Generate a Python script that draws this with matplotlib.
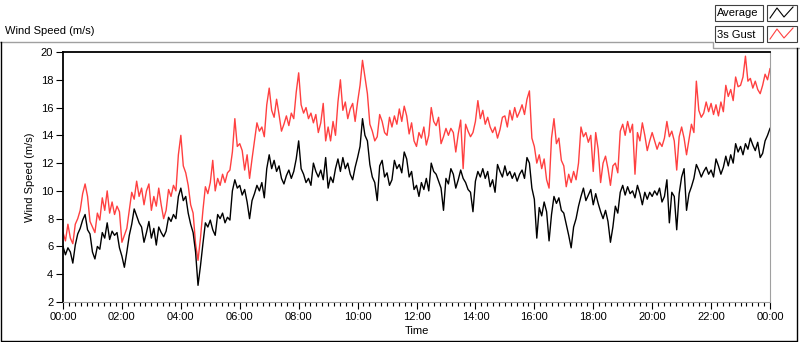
import numpy as np
import matplotlib
matplotlib.use('Agg')
import matplotlib.pyplot as plt
from matplotlib.ticker import MultipleLocator, FuncFormatter
from matplotlib.patches import Rectangle

plt.rcParams['font.family'] = ['Liberation Sans', 'DejaVu Sans']

# wind speed in m/s, one reading every 5 minutes from 00:00 to 24:00
step_min = 5
average = [
    6.0, 5.4, 5.9, 5.6, 4.8, 6.1, 6.9, 7.3, 7.9, 8.3, 7.2, 6.9,
    5.6, 5.1, 6.0, 5.8, 7.0, 6.6, 7.7, 6.5, 7.1, 6.8, 7.0, 5.9,
    5.3, 4.5, 5.6, 6.8, 7.6, 8.7, 8.2, 7.7, 7.4, 6.3, 7.0, 7.8,
    6.6, 7.3, 6.1, 7.4, 7.0, 6.7, 7.1, 8.1, 7.8, 8.3, 8.0, 9.6,
    10.2, 9.3, 9.6, 8.4, 7.6, 7.0, 5.6, 3.2, 4.6, 6.2, 7.7, 7.4,
    7.9, 7.2, 6.8, 8.3, 8.0, 8.4, 7.7, 8.1, 7.9, 10.0, 10.8, 10.2,
    10.4, 9.7, 10.1, 9.2, 8.0, 9.3, 9.8, 10.4, 10.0, 10.6, 9.5, 11.6,
    12.6, 11.6, 12.2, 11.4, 11.8, 10.9, 10.5, 11.1, 11.5, 10.9, 11.4, 12.3,
    13.6, 11.6, 11.2, 10.6, 10.9, 10.4, 12.0, 11.4, 11.0, 11.5, 10.8, 12.4,
    10.2, 11.0, 10.6, 11.6, 12.3, 11.4, 12.4, 11.6, 12.0, 11.2, 10.8, 11.7,
    12.4, 13.2, 15.2, 14.0, 13.6, 11.9, 11.0, 10.6, 9.3, 11.8, 12.2, 11.0,
    11.3, 10.4, 10.8, 12.2, 11.6, 11.9, 11.3, 12.8, 12.3, 11.0, 11.4, 10.1,
    10.4, 9.6, 10.6, 10.1, 10.9, 10.0, 12.0, 11.4, 11.2, 10.7, 10.2, 8.6,
    10.9, 10.5, 11.6, 11.2, 10.2, 10.8, 11.5, 10.9, 10.6, 10.1, 9.9, 8.5,
    10.7, 11.4, 11.0, 11.6, 10.9, 11.4, 10.3, 10.8, 9.9, 11.9, 11.4, 11.0,
    11.8, 11.1, 11.4, 10.9, 11.3, 10.7, 11.2, 11.5, 10.9, 12.4, 12.0, 10.2,
    9.4, 6.6, 8.8, 8.2, 9.2, 8.5, 6.4, 8.3, 9.6, 9.1, 9.5, 8.6,
    8.4, 7.6, 6.8, 5.9, 7.4, 8.0, 8.9, 9.6, 10.2, 9.3, 9.7, 10.1,
    9.0, 9.8, 9.1, 8.5, 8.0, 8.6, 7.8, 6.3, 7.4, 8.9, 8.4, 9.9,
    10.4, 9.7, 10.3, 9.8, 10.0, 9.5, 10.4, 9.8, 9.0, 9.9, 9.4, 9.9,
    9.6, 10.0, 9.7, 10.2, 9.2, 9.6, 10.8, 7.7, 9.9, 9.6, 7.2, 9.8,
    11.0, 11.6, 8.6, 9.8, 10.3, 10.9, 11.9, 11.5, 11.0, 11.4, 11.7, 11.2,
    11.5, 11.0, 12.3, 11.8, 11.2, 11.7, 12.5, 11.8, 12.6, 12.0, 13.4, 12.8,
    13.2, 12.6, 13.4, 13.0, 13.8, 13.3, 12.9, 13.5, 12.4, 12.7, 13.6, 14.0,
    14.5,
]
gust = [
    7.0, 6.4, 7.6, 6.6, 6.2, 7.6, 8.0, 8.6, 9.8, 10.5, 9.6, 7.8,
    7.4, 7.0, 8.4, 7.9, 9.5, 8.6, 10.0, 8.4, 9.2, 8.3, 8.9, 8.5,
    6.3, 6.8, 7.3, 8.6, 9.9, 9.4, 10.7, 9.6, 10.2, 9.0, 10.0, 10.5,
    8.6, 9.6, 8.9, 10.2, 9.0, 8.0, 8.6, 10.1, 9.6, 10.4, 10.0, 12.6,
    14.0, 11.8, 11.3, 10.4, 9.0, 8.4, 6.2, 5.0, 6.6, 8.6, 10.3, 9.8,
    10.6, 12.2, 10.0, 10.9, 10.4, 11.2, 10.6, 11.3, 11.5, 12.8, 15.2, 13.2,
    13.4, 12.9, 11.5, 12.6, 10.9, 12.3, 13.6, 14.9, 14.3, 14.6, 13.9, 16.2,
    17.4, 15.8, 15.3, 16.6, 15.5, 14.3, 14.8, 15.4, 14.7, 15.6, 15.2, 17.1,
    18.5, 16.2, 15.6, 16.0, 15.2, 15.6, 14.9, 15.5, 14.2, 14.9, 16.3, 13.6,
    14.6, 13.6, 15.0, 14.0, 16.4, 18.0, 15.8, 16.4, 15.2, 15.9, 16.3, 15.0,
    16.4, 17.6, 19.4, 18.2, 17.0, 14.8, 14.3, 13.6, 13.9, 15.5, 15.0, 14.2,
    14.0, 15.3, 14.6, 15.4, 14.8, 15.9, 15.0, 16.1, 15.4, 14.1, 14.9, 13.6,
    13.2, 14.2, 13.8, 14.6, 13.3, 14.0, 16.0, 15.0, 14.7, 15.3, 13.4, 13.9,
    14.5, 14.0, 14.5, 14.2, 12.8, 14.1, 15.1, 11.6, 14.8, 14.3, 13.9, 14.2,
    15.0, 16.5, 15.2, 15.8, 14.8, 15.3, 14.6, 14.2, 14.6, 13.8, 14.4, 15.3,
    15.4, 14.6, 15.8, 15.1, 16.0, 15.3, 15.7, 16.2, 15.5, 16.6, 17.2, 13.8,
    13.2, 12.0, 12.6, 11.6, 12.3, 10.8, 10.2, 13.8, 15.2, 13.4, 13.8, 12.2,
    11.8, 10.3, 11.2, 10.6, 11.4, 10.8, 12.0, 14.6, 13.9, 14.2, 13.5, 14.0,
    11.4, 14.2, 13.0, 10.6, 12.0, 12.5, 11.6, 10.4, 11.8, 12.0, 11.3, 14.3,
    14.8, 14.0, 15.0, 14.2, 14.8, 11.2, 14.2, 13.6, 14.9, 14.0, 12.9, 13.6,
    14.2, 13.6, 13.0, 13.5, 13.2, 13.8, 15.0, 13.9, 14.3, 13.6, 11.5, 13.9,
    14.6, 13.8, 12.6, 13.7, 14.8, 14.2, 17.9, 15.8, 15.3, 15.6, 16.4, 15.7,
    16.3, 15.5, 16.2, 15.4, 16.4, 15.7, 17.6, 16.8, 17.3, 16.5, 18.2, 17.5,
    17.6, 18.2, 19.7, 17.9, 18.1, 17.4, 17.9, 17.3, 17.0, 17.6, 18.4, 18.0,
    18.8,
]
series_names = ['Average', '3s Gust']
series_colors = ['black', '#ff4040']

hours = np.arange(len(average)) * step_min / 60.0

W, H = 800, 342
fig = plt.figure(figsize=(W / 100, H / 100), dpi=100)

# background decorations drawn in pixel coordinates
bg = fig.add_axes([0, 0, 1, 1])
bg.set_xlim(0, W)
bg.set_ylim(H, 0)
bg.axis('off')
gray = '#a0a0a0'
bg.plot([0, 713, 713, 800], [42, 42, 48, 48], color=gray, lw=1)
bg.plot([0.5, 0.5, 797, 797], [42, 341, 341, 48], color='black', lw=1)
bg.text(5, 31, 'Wind Speed (m/s)', fontsize=8, va='center', ha='left')

for i, (name, col) in enumerate(zip(series_names, series_colors)):
    y0 = 5 + i * 21
    bg.add_patch(Rectangle((715, y0), 48, 16, fc='white', ec='#404040', lw=0.8))
    bg.text(717, y0 + 8.5, name, fontsize=8, va='center', ha='left')
    bg.add_patch(Rectangle((767, y0), 30, 16, fc='white', ec='#404040', lw=0.8))
    bg.plot([770, 777, 784, 793], [y0 + 13, y0 + 3, y0 + 12, y0 + 2], color=col, lw=0.8)

ax = fig.add_axes([63 / W, 1 - 302 / H, 707 / W, 250 / H])
ax.plot(hours, gust, color=series_colors[1], lw=1.0)
ax.plot(hours, average, color=series_colors[0], lw=1.0)

ax.set_xlim(0, 24)
ax.set_ylim(2, 20)
ax.xaxis.set_major_locator(MultipleLocator(2))
ax.xaxis.set_minor_locator(MultipleLocator(0.2))
ax.xaxis.set_major_formatter(FuncFormatter(lambda v, p: '%02d:00' % (int(round(v)) % 24)))
ax.yaxis.set_major_locator(MultipleLocator(2))
ax.tick_params(axis='both', which='major', length=5, width=0.8, labelsize=8, pad=2)
ax.tick_params(axis='x', which='minor', length=3, width=0.8)

ax.spines['left'].set_color('black')
ax.spines['top'].set_color('black')
ax.spines['left'].set_linewidth(1.3)
ax.spines['top'].set_linewidth(1.3)
ax.spines['bottom'].set_color(gray)
ax.spines['right'].set_color(gray)

ax.set_xlabel('Time', fontsize=8, labelpad=3)
ax.set_ylabel('Wind Speed (m/s)', fontsize=8, labelpad=4)

fig.savefig('out.png', dpi=100)
